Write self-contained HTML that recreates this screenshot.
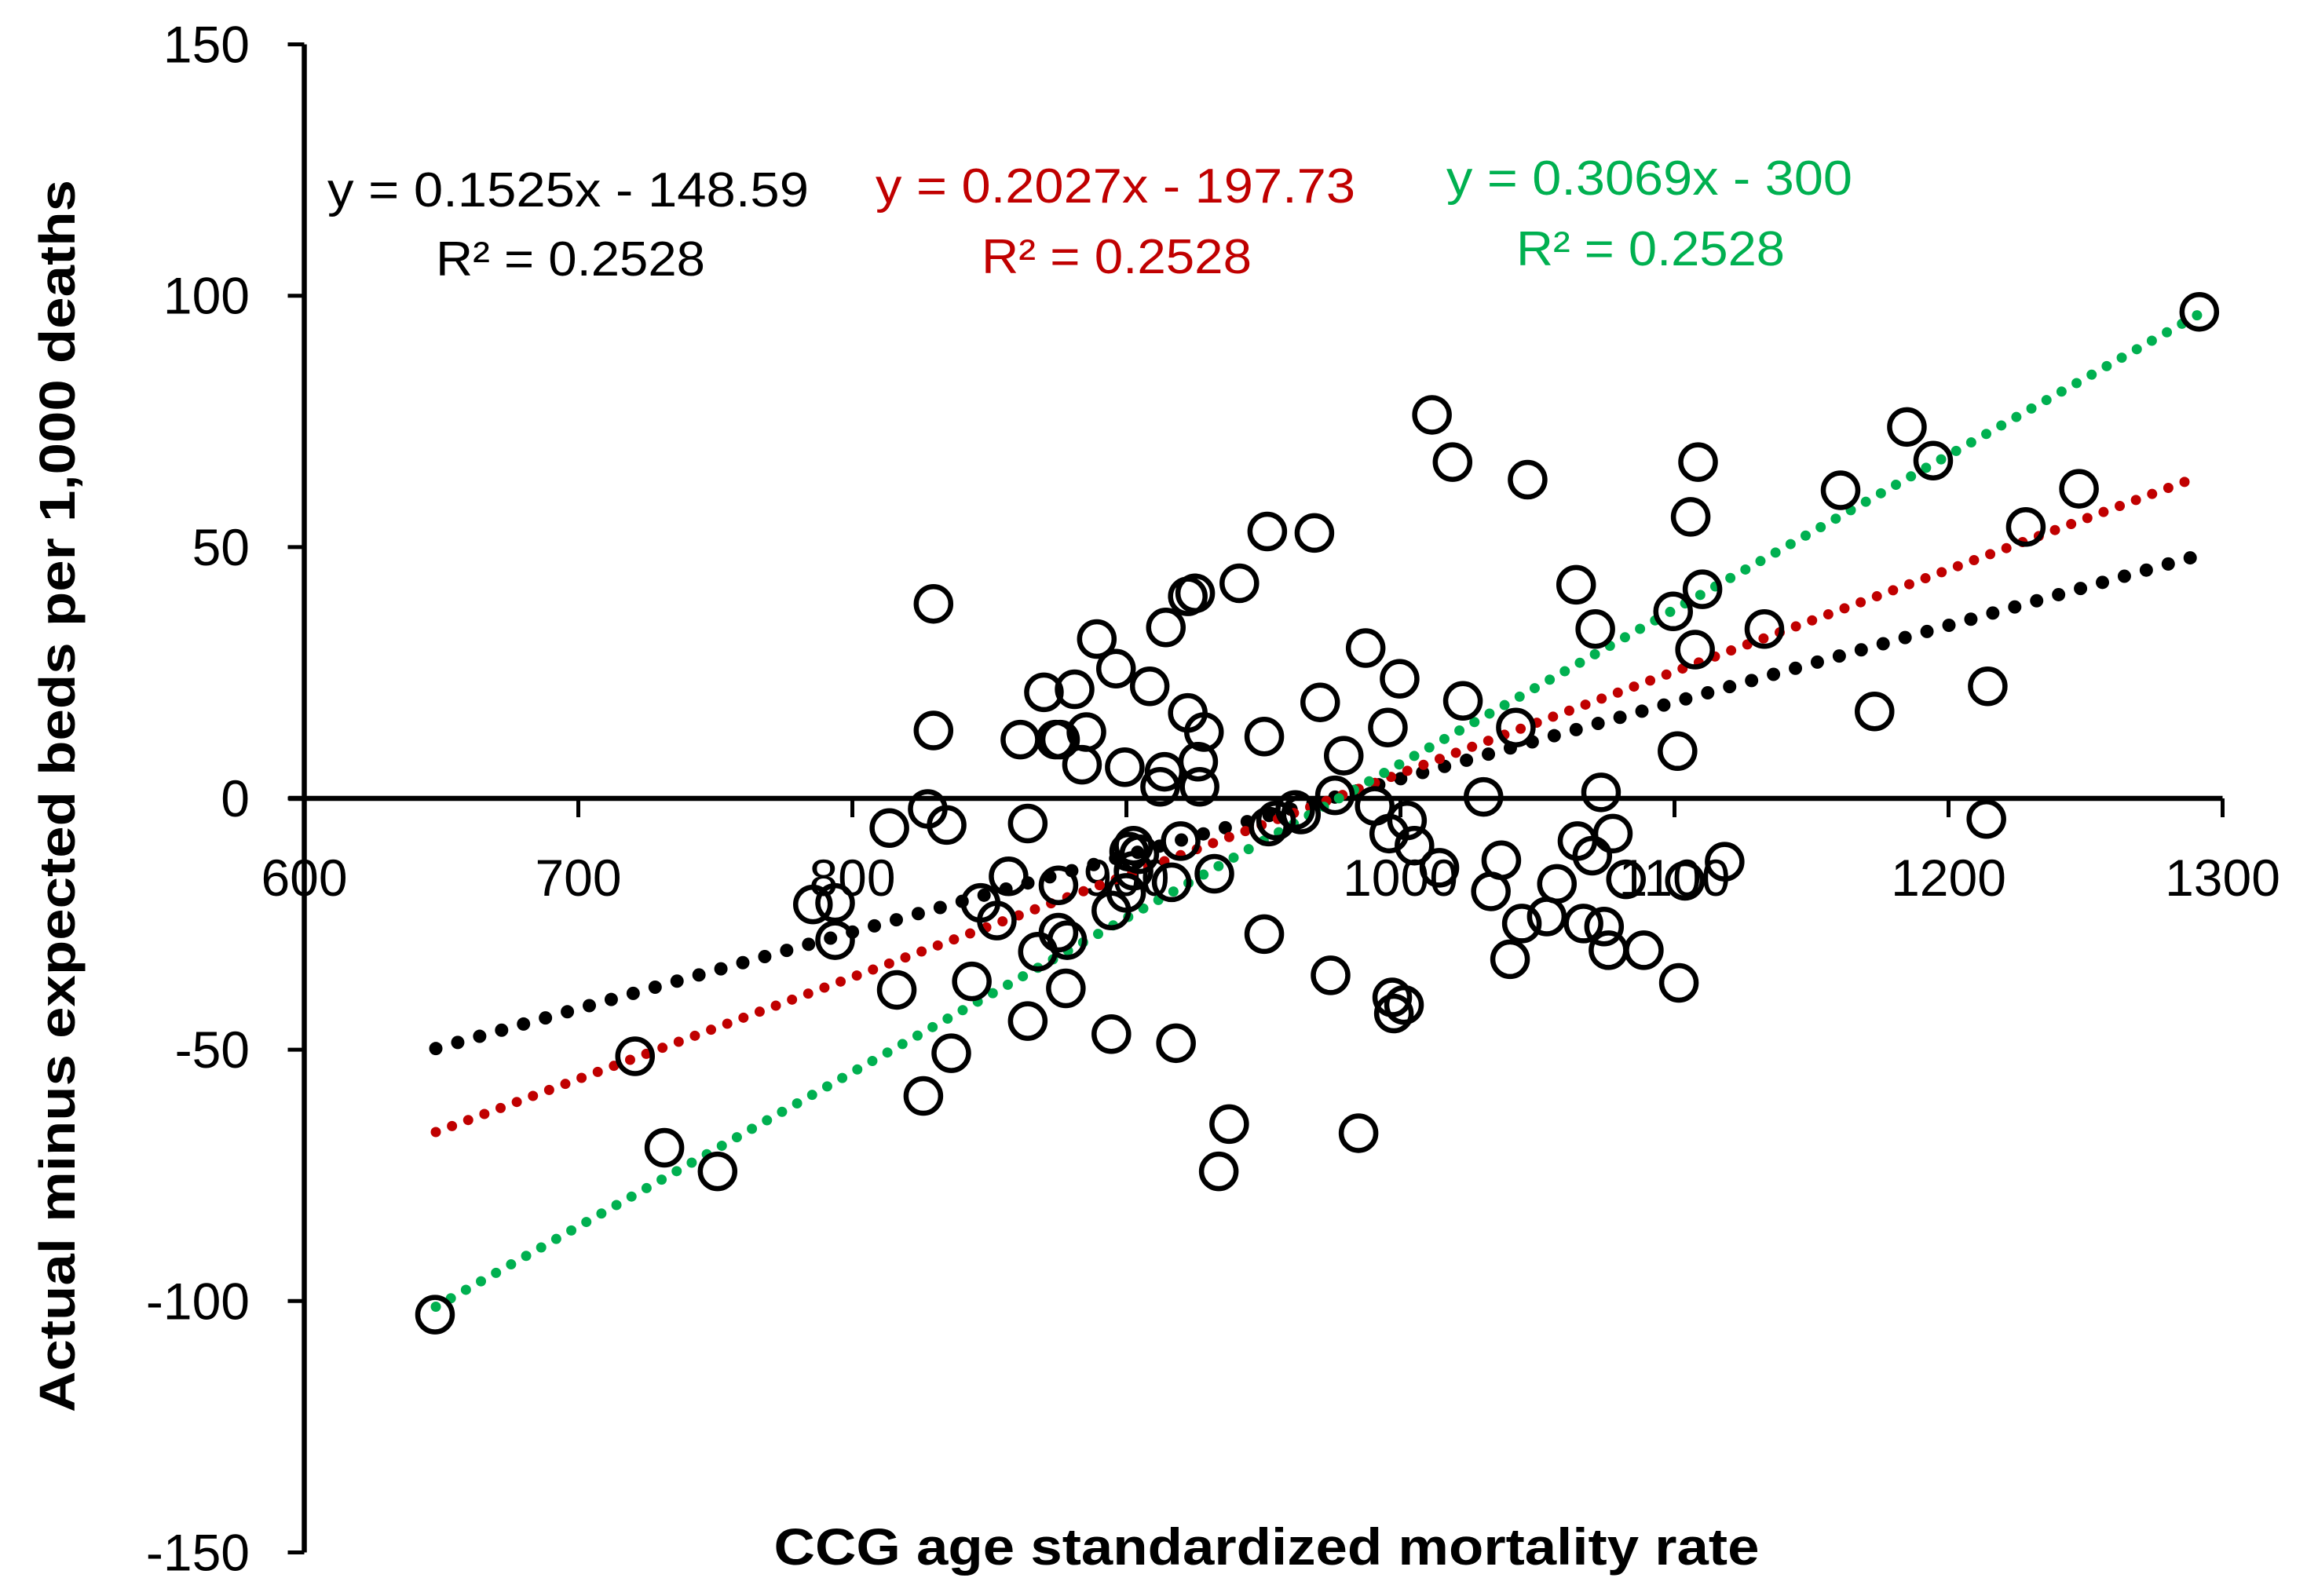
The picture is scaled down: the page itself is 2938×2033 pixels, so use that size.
<!DOCTYPE html>
<html><head><meta charset="utf-8"><style>
html,body{margin:0;padding:0;background:#fff}
svg{display:block}
text{font-family:"Liberation Sans",sans-serif}
</style></head><body>
<svg id="chart" width="2938" height="2033" viewBox="0 0 2938 2033" xmlns="http://www.w3.org/2000/svg">
<g id="axes"></g>
<g id="trends"></g>
<g id="points"></g>
<g id="labels">
<text x="1613" y="1993" text-anchor="middle" font-weight="bold" font-size="66" textLength="1255" lengthAdjust="spacingAndGlyphs">CCG age standardized mortality rate</text>
<text transform="translate(95,1014) rotate(-90)" text-anchor="middle" font-weight="bold" font-size="64" textLength="1570" lengthAdjust="spacingAndGlyphs">Actual minus expected beds per 1,000 deaths</text>
<text x="417" y="263" font-size="62" fill="#000" textLength="613" lengthAdjust="spacingAndGlyphs">y = 0.1525x - 148.59</text>
<text x="555" y="351" font-size="62" fill="#000" textLength="343" lengthAdjust="spacingAndGlyphs">R² = 0.2528</text>
<text x="1115" y="258" font-size="62" fill="#C00000" textLength="611" lengthAdjust="spacingAndGlyphs">y = 0.2027x - 197.73</text>
<text x="1250" y="348" font-size="62" fill="#C00000" textLength="344" lengthAdjust="spacingAndGlyphs">R² = 0.2528</text>
<text x="1842" y="248" font-size="62" fill="#00B050" textLength="517" lengthAdjust="spacingAndGlyphs">y = 0.3069x - 300</text>
<text x="1931" y="338" font-size="62" fill="#00B050" textLength="342" lengthAdjust="spacingAndGlyphs">R² = 0.2528</text>
</g>
</svg>
<script>
const xTicks = [600,700,800,900,1000,1100,1200,1300];
const yTicks = [150,100,50,0,-50,-100,-150];
const xValues = [647.7,720.7,731.4,750.8,785.6,793.7,793.7,813.5,816.2,825.9,827.5,829.6,829.6,834.4,836.1,843.6,846.8,852.7,857.0,861.3,864.0,864.0,867.7,869.9,874.2,875.8,875.2,875.2,878.4,877.9,881.1,883.8,885.4,889.2,894.5,894.5,896.2,899.4,899.9,901.0,902.6,904.7,908.5,902.6,912.3,913.9,914.4,916.5,918.1,919.8,922.4,922.4,925.1,926.2,926.7,928.3,932.1,933.7,937.5,941.2,950.3,950.3,951.4,951.9,954.6,961.6,963.7,968.6,970.7,974.5,976.1,979.3,984.7,987.3,990.6,995.4,995.9,997.0,997.6,1001.3,999.7,1002.4,1005.1,1011.5,1014.2,1019.0,1022.8,1030.3,1033.0,1036.8,1040.0,1042.1,1044.3,1046.4,1053.4,1057.1,1064.1,1064.6,1066.8,1070.0,1071.1,1073.2,1074.3,1075.9,1077.5,1082.3,1088.8,1099.5,1101.1,1101.6,1103.8,1105.9,1107.5,1108.6,1110.2,1118.3,1132.8,1160.6,1173.0,1184.8,1194.4,1213.8,1214.3,1228.2,1247.6,1291.5];
const yValues = [-102.7,-51.3,-69.5,-74.2,-21.1,-20.8,-28.2,-5.9,-38.1,-59.2,-2.1,13.5,38.7,-5.3,-50.7,-36.4,-20.8,-24.3,-15.5,11.7,-5.0,-44.3,-30.5,21.1,11.7,11.7,-17.3,-26.7,-28.2,-37.8,21.7,6.7,13.2,31.7,-22.3,-46.9,25.8,6.2,-18.8,-10.6,-9.4,-11.1,22.3,-14.4,2.3,5.3,34.0,-16.7,-48.7,-8.5,17.0,40.2,40.8,7.3,2.3,13.2,-15.0,-74.2,-64.8,42.8,-27.0,12.3,53.1,-5.6,-4.4,-2.3,-3.2,52.8,19.1,-35.2,0.6,8.5,-66.6,29.9,-1.5,14.1,-7.0,-39.6,-42.8,-41.1,23.8,-4.4,-9.4,76.3,-13.8,66.9,19.4,0.3,-18.5,-12.3,-32.0,14.1,-24.9,63.4,-23.5,-17.0,42.5,-8.5,-24.9,-11.4,33.7,1.2,-25.5,-30.2,-7.0,-16.1,-30.2,37.2,9.4,-36.7,-16.4,56.0,29.6,66.9,41.6,-12.6,33.7,61.3,17.3,73.9,67.2,-4.1,22.3,54.0,61.6,96.8];
const trendSlopes = [0.1525,0.2027,0.3069];
const trendIntercepts = [-148.59,-197.73,-300];
const trendNames = ['black','red','green'];
const trendColors = ['#000000','#C00000','#00B050'];
const trendRange = [648,1292];

const NS='http://www.w3.org/2000/svg';
function sx(v){return 387.5+(v-600)*3.49;}
function sy(v){return 1017-v*6.403;}
function mk(tag,attrs,parent){const e=document.createElementNS(NS,tag);for(const k in attrs)e.setAttribute(k,attrs[k]);parent.appendChild(e);return e;}

const axes=document.getElementById('axes');
let yl=mk('line',{x1:sx(600),x2:sx(600),y1:sy(150),y2:sy(-150),stroke:'#000','stroke-width':6.5},axes);


let xl=mk('line',{x1:sx(600)-20,x2:sx(1300),y1:sy(0),y2:sy(0),stroke:'#000','stroke-width':6.5},axes);


xTicks.forEach(t=>{
  if(t>600){
    let tk=mk('line',{x1:sx(t),x2:sx(t),y1:sy(0),y2:sy(0)+24,stroke:'#000','stroke-width':5},axes);
    
    
  }
  let tx=mk('text',{x:sx(t),y:1141,'text-anchor':'middle','font-size':66},axes);
  tx.textContent=t;
  
  
});
yTicks.forEach(t=>{
  let tk=mk('line',{x1:sx(600)-21,x2:sx(600),y1:sy(t),y2:sy(t),stroke:'#000','stroke-width':5},axes);
  
  
  let tx=mk('text',{x:318,y:sy(t)+23,'text-anchor':'end','font-size':66},axes);
  tx.textContent=t;
  
  
});

const trends=document.getElementById('trends');
trendSlopes.forEach((m,i)=>{
  const b=trendIntercepts[i];
  const black=i===0;
  let ln=mk('line',{x1:sx(trendRange[0]),y1:sy(m*trendRange[0]+b),x2:sx(trendRange[1]),y2:sy(m*trendRange[1]+b),
    stroke:trendColors[i],'stroke-width':black?17:13,'stroke-linecap':'round','stroke-dasharray':black?'0 29':'0 22'},trends);
  
  
});

const pts=document.getElementById('points');
xValues.forEach((x,i)=>{
  let c=mk('circle',{cx:sx(x),cy:sy(yValues[i]),r:22,fill:'none',stroke:'#000','stroke-width':6.5},pts);
  
  
});
</script>
</body></html>
